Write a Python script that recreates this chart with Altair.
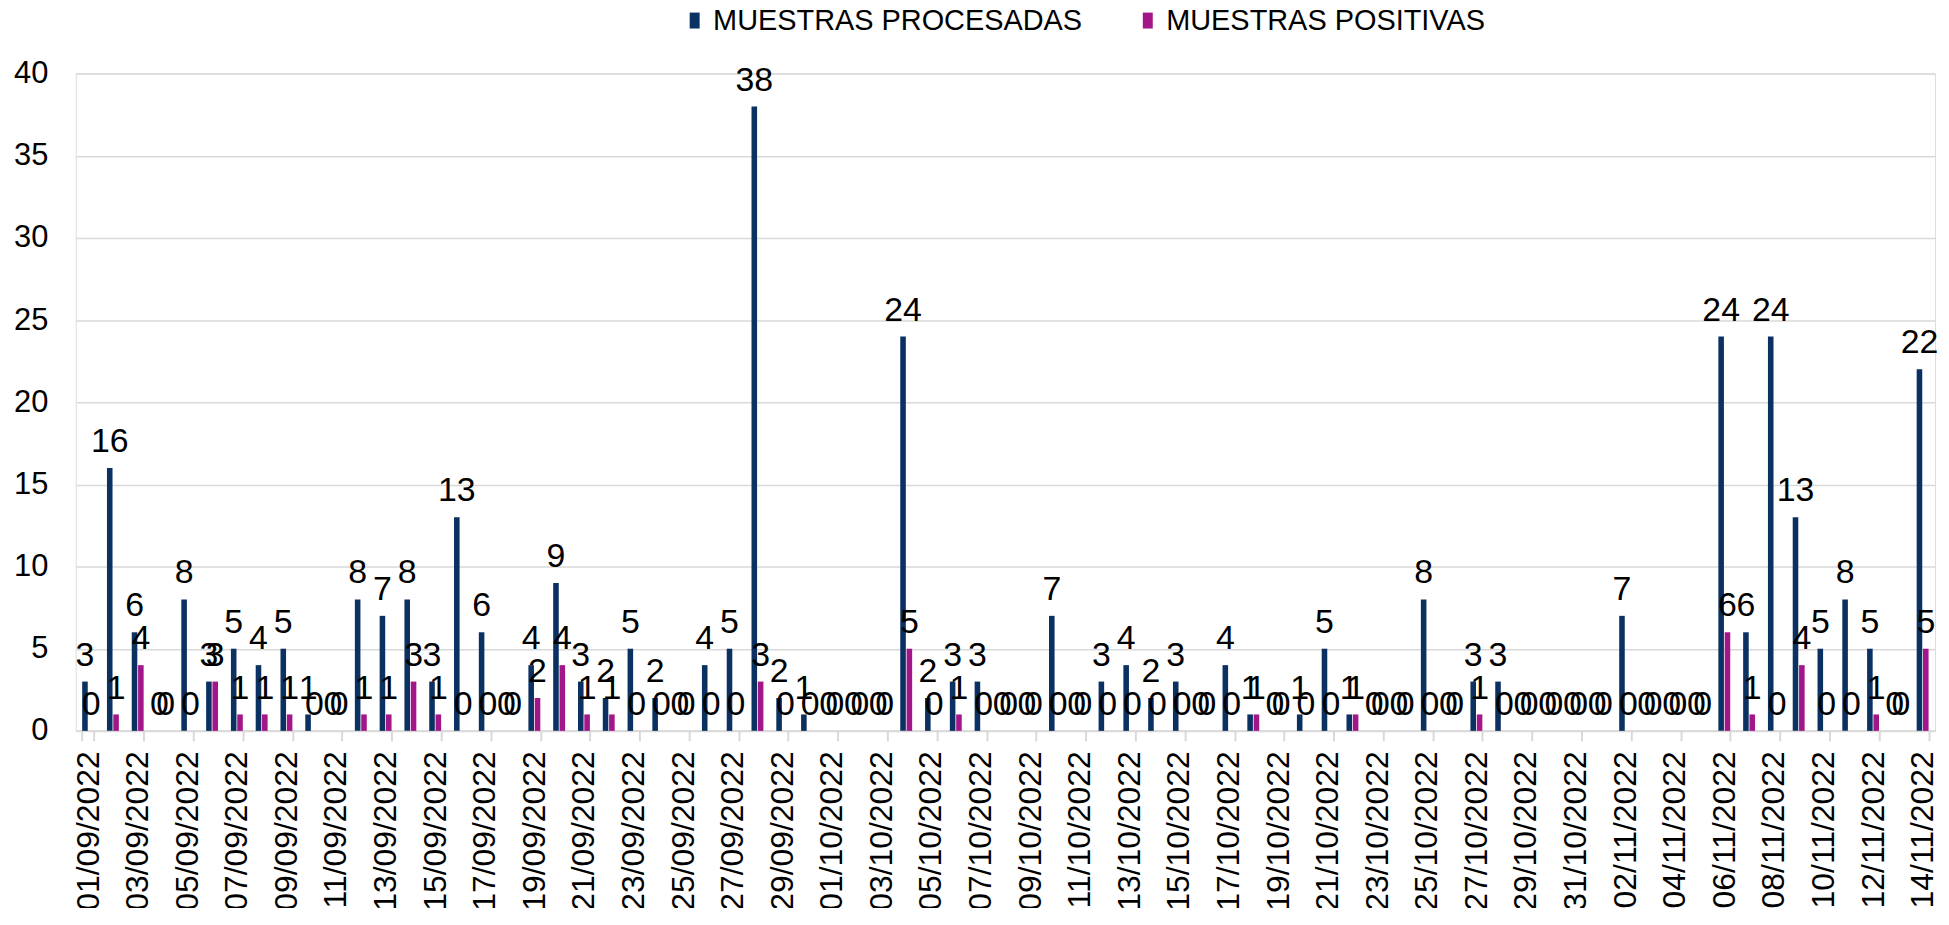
import altair as alt
import pandas as pd

fechas = [
    "01/09/2022", "02/09/2022", "03/09/2022", "04/09/2022", "05/09/2022", "06/09/2022", "07/09/2022", "08/09/2022",
    "09/09/2022", "10/09/2022", "11/09/2022", "12/09/2022", "13/09/2022", "14/09/2022", "15/09/2022", "16/09/2022",
    "17/09/2022", "18/09/2022", "19/09/2022", "20/09/2022", "21/09/2022", "22/09/2022", "23/09/2022", "24/09/2022",
    "25/09/2022", "26/09/2022", "27/09/2022", "28/09/2022", "29/09/2022", "30/09/2022",
    "01/10/2022", "02/10/2022", "03/10/2022", "04/10/2022", "05/10/2022", "06/10/2022", "07/10/2022", "08/10/2022",
    "09/10/2022", "10/10/2022", "11/10/2022", "12/10/2022", "13/10/2022", "14/10/2022", "15/10/2022", "16/10/2022",
    "17/10/2022", "18/10/2022", "19/10/2022", "20/10/2022", "21/10/2022", "22/10/2022", "23/10/2022", "24/10/2022",
    "25/10/2022", "26/10/2022", "27/10/2022", "28/10/2022", "29/10/2022", "30/10/2022", "31/10/2022",
    "01/11/2022", "02/11/2022", "03/11/2022", "04/11/2022", "05/11/2022", "06/11/2022", "07/11/2022", "08/11/2022",
    "09/11/2022", "10/11/2022", "11/11/2022", "12/11/2022", "13/11/2022", "14/11/2022",
]

procesadas = [3, 16, 6, 0, 8, 3, 5, 4, 5, 1,
              0, 8, 7, 8, 3, 13, 6, 0, 4, 9,
              3, 2, 5, 2, 0, 4, 5, 38, 2, 1,
              0, 0, 0, 24, 2, 3, 3, 0, 0, 7,
              0, 3, 4, 2, 3, 0, 4, 1, 0, 1,
              5, 1, 0, 0, 8, 0, 3, 3, 0, 0,
              0, 0, 7, 0, 0, 0, 24, 6, 24, 13,
              5, 8, 5, 0, 22]

positivas = [0, 1, 4, 0, 0, 3, 1, 1, 1, 0,
             0, 1, 1, 3, 1, 0, 0, 0, 2, 4,
             1, 1, 0, 0, 0, 0, 0, 3, 0, 0,
             0, 0, 0, 5, 0, 1, 0, 0, 0, 0,
             0, 0, 0, 0, 0, 0, 0, 1, 0, 0,
             0, 1, 0, 0, 0, 0, 1, 0, 0, 0,
             0, 0, 0, 0, 0, 0, 6, 1, 0, 4,
             0, 0, 1, 0, 5]

series = ["MUESTRAS PROCESADAS", "MUESTRAS POSITIVAS"]
colores = ["#0B3062", "#A3168A"]
y_ticks = [0, 5, 10, 15, 20, 25, 30, 35, 40]

rows = []
for f, a, b in zip(fechas, procesadas, positivas):
    rows.append({"fecha": f, "serie": series[0], "valor": a})
    rows.append({"fecha": f, "serie": series[1], "valor": b})
df = pd.DataFrame(rows)

FONT = "Liberation Sans"

base = alt.Chart(df).encode(
    x=alt.X(
        "fecha:N",
        sort=fechas,
        title=None,
        scale=alt.Scale(paddingInner=0.52, paddingOuter=0.26),
        axis=alt.Axis(
            values=fechas[::2],
            labelAngle=-90,
            labelFont=FONT,
            labelFontSize=32,
            labelColor="#000000",
            labelPadding=10,
            tickBand="extent",
            tickSize=10,
            tickWidth=2,
            tickColor="#D9D9D9",
            domainColor="#D9D9D9",
            domainWidth=2,
            grid=False,
            labelOverlap=False,
        ),
    ),
    xOffset=alt.XOffset("serie:N", sort=series, scale=alt.Scale(paddingInner=0.12)),
)

bars = base.mark_bar().encode(
    y=alt.Y(
        "valor:Q",
        title=None,
        scale=alt.Scale(domain=[0, 40]),
        axis=alt.Axis(
            values=y_ticks,
            labelFont=FONT,
            labelFontSize=31,
            labelColor="#000000",
            labelPadding=28,
            ticks=False,
            tickSize=0,
            domain=False,
            grid=True,
            gridColor="#D9D9D9",
            gridWidth=1.5,
        ),
    ),
    color=alt.Color(
        "serie:N",
        sort=series,
        scale=alt.Scale(domain=series, range=colores),
        legend=alt.Legend(
            title=None,
            orient="none",
            direction="horizontal",
            legendX=607,
            legendY=-68,
            padding=0,
            symbolType="M-0.625,-1L0.625,-1L0.625,1L-0.625,1Z",
            symbolSize=256,
            symbolStrokeWidth=0,
            labelFont=FONT,
            labelFontSize=29,
            labelColor="#000000",
            labelOffset=4,
            columnPadding=51,
            labelLimit=500,
        ),
    ),
)

labels = base.mark_text(
    dy=-16, baseline="alphabetic", align="center", font=FONT, fontSize=34, color="#000000"
).encode(
    y=alt.Y("valor:Q"),
    text=alt.Text("valor:Q"),
)

chart = (
    alt.layer(bars, labels)
    .properties(
        width=1867,
        height=660,
        autosize=alt.AutoSizeParams(type="none"),
        padding={"left": 68, "top": 64, "right": 6, "bottom": 176},
    )
    .configure_view(fill="#EEEEEE", stroke=None)
    .configure(background="#FFFFFF")
)

chart.save("out.html", embed_options={"renderer": "svg", "actions": False})
